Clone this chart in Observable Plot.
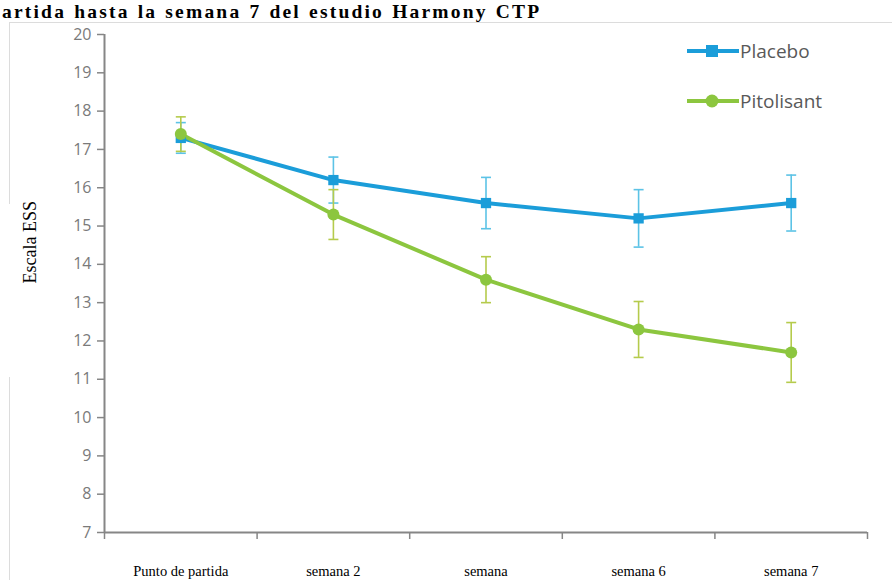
<!DOCTYPE html>
<html>
<head>
<meta charset="utf-8">
<script src="https://cdn.jsdelivr.net/npm/d3@7"></script>
<script src="https://cdn.jsdelivr.net/npm/@observablehq/plot@0.6"></script>
<style>
  html, body { margin: 0; padding: 0; background: #fff; overflow: hidden; }
  #wrap { position: relative; width: 892px; height: 580px; overflow: hidden; }
  #title { position: absolute; left: 2px; top: -0.4px; font: bold 19.5px/23px "Liberation Serif", "Times New Roman", serif; color: #000; white-space: nowrap; letter-spacing: 2.2px; word-spacing: 1px; }
  .bline { position: absolute; background: #dcdcdc; }
  #chart { position: absolute; left: 0; top: 0; }
  #legend { position: absolute; left: 0; top: 0; pointer-events: none; }
</style>
</head>
<body>
<div id="wrap">
  <div class="bline" style="left:9px; top:22px; width:883px; height:1px;"></div>
  <div class="bline" style="left:9px; top:22px; width:1px; height:182px;"></div>
  <div class="bline" style="left:9px; top:377px; width:1px; height:203px;"></div>
  <div id="chart"></div>
  <div id="title">artida hasta la semana 7 del estudio Harmony CTP</div>
  <svg id="legend" width="892" height="580"></svg>
</div>
<script>
// ---- data ----
const categories = ["Punto de partida", "semana 2", "semana", "semana 6", "semana 7"];
const placebo = [17.3, 16.2, 15.6, 15.2, 15.6];
const placeboErr = [0.4, 0.6, 0.67, 0.75, 0.73];
const pitolisant = [17.4, 15.3, 13.6, 12.3, 11.7];
const pitolisantErr = [0.45, 0.65, 0.6, 0.73, 0.78];
const yTicks = [7, 8, 9, 10, 11, 12, 13, 14, 15, 16, 17, 18, 19, 20];
const seriesNames = ["Placebo", "Pitolisant"];
const yLabel = "Escala ESS";

const colors = { Placebo: "#1b9dd9", Pitolisant: "#8cc63f" };
const errColors = { Placebo: "#5cc3e6", Pitolisant: "#b5cb4c" };

const rows = (name, vals, errs) => categories.map((c, i) => ({
  series: name, cat: c, pos: i + 0.5, value: vals[i], lo: vals[i] - errs[i], hi: vals[i] + errs[i]
}));
const pRows = rows("Placebo", placebo, placeboErr);
const gRows = rows("Pitolisant", pitolisant, pitolisantErr);

const centers = categories.map((c, i) => i + 0.5);
const bounds = d3.range(categories.length + 1);

// cap symbol: horizontal stroke
const cap = { draw(ctx, size) { const w = Math.sqrt(size / Math.PI); ctx.moveTo(-w, 0); ctx.lineTo(w, 0); } };

const axisColor = "#868686";

const errMarks = (data, name) => [
  Plot.ruleX(data, { x: "pos", y1: "lo", y2: "hi", stroke: errColors[name], strokeWidth: 1.6 }),
  Plot.dot(data, { x: "pos", y: "lo", symbol: cap, r: 5, stroke: errColors[name], strokeWidth: 1.6, fill: "none" }),
  Plot.dot(data, { x: "pos", y: "hi", symbol: cap, r: 5, stroke: errColors[name], strokeWidth: 1.6, fill: "none" })
];

const plot = Plot.plot({
  width: 892, height: 580,
  marginLeft: 104, marginRight: 25, marginTop: 34, marginBottom: 48,
  style: { background: "transparent", overflow: "visible" },
  x: { domain: [0, categories.length], axis: null },
  y: { domain: [7, 20], axis: null },
  marks: [
    Plot.axisY({ ticks: yTicks, tickSize: 7, tickPadding: 6, stroke: axisColor, strokeWidth: 1.5,
                 fill: "#7a7a7a", fontSize: 16, fontFamily: "Open Sans, sans-serif", label: null, tickFormat: d => String(d) }),
    Plot.axisX({ ticks: bounds, tickSize: 7, tickFormat: () => "", stroke: axisColor, strokeWidth: 1.5, label: null }),
    Plot.axisX({ ticks: centers, tickSize: 0, tickPadding: 33, tickFormat: (d, i) => categories[i],
                 fill: "#000", fontSize: 14.5, fontFamily: "Liberation Serif, Times New Roman, serif", label: null }),
    Plot.ruleX([0], { stroke: axisColor, strokeWidth: 2 }),
    Plot.ruleY([7], { stroke: axisColor, strokeWidth: 2 }),
    Plot.text([yLabel], { frameAnchor: "left", dx: -74, rotate: -90, fontSize: 18,
                          fontFamily: "Liberation Serif, Times New Roman, serif", fill: "#000" }),
    ...errMarks(pRows, "Placebo"),
    ...errMarks(gRows, "Pitolisant"),
    Plot.line(pRows, { x: "pos", y: "value", stroke: colors.Placebo, strokeWidth: 4 }),
    Plot.line(gRows, { x: "pos", y: "value", stroke: colors.Pitolisant, strokeWidth: 4 }),
    Plot.dot(pRows, { x: "pos", y: "value", symbol: "square", r: 5.8, fill: colors.Placebo }),
    Plot.dot(gRows, { x: "pos", y: "value", symbol: "circle", r: 6, fill: colors.Pitolisant })
  ]
});
document.getElementById("chart").appendChild(plot);

// ---- legend ----
const lg = d3.select("#legend");
const legendItems = [
  { name: seriesNames[0], y: 51, sym: "square" },
  { name: seriesNames[1], y: 101, sym: "circle" }
];
legendItems.forEach(it => {
  const g = lg.append("g");
  g.append("line").attr("x1", 687).attr("x2", 739).attr("y1", it.y).attr("y2", it.y)
    .attr("stroke", colors[it.name]).attr("stroke-width", 4);
  if (it.sym === "square") {
    g.append("rect").attr("x", 706).attr("y", it.y - 6).attr("width", 12).attr("height", 12).attr("fill", colors[it.name]);
  } else {
    g.append("circle").attr("cx", 712).attr("cy", it.y).attr("r", 6.5).attr("fill", colors[it.name]);
  }
  g.append("text").attr("x", 740).attr("y", it.y).attr("dy", "0.35em")
    .attr("font-family", "Open Sans, sans-serif").attr("font-size", 19).attr("fill", "#595959")
    .text(it.name);
});
</script>
</body>
</html>
